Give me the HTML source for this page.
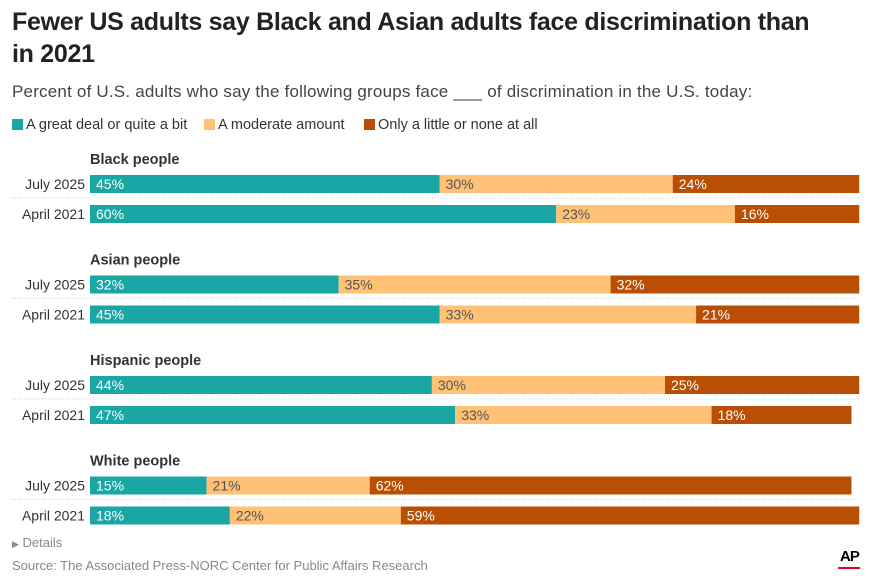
<!DOCTYPE html>
<html><head><meta charset="utf-8"><style>
body{margin:0;width:871px;height:581px;background:#fff;font-family:"Liberation Sans",sans-serif;overflow:hidden;position:relative}
.t{position:absolute;left:12px;top:6px;font-size:25px;font-weight:bold;color:#222;line-height:32px;width:820px;letter-spacing:-0.3px}
.s{position:absolute;left:12px;top:82px;font-size:17px;color:#444;letter-spacing:0.2px}
.lg{position:absolute;top:117px;font-size:14.5px;color:#333}
.lg i{display:inline-block;width:11px;height:11px;margin-right:3px;vertical-align:-1px}
</style></head><body>
<div class="t">Fewer US adults say Black and Asian adults face discrimination than in 2021</div>
<div class="s">Percent of U.S. adults who say the following groups face ___ of discrimination in the U.S. today:</div>
<div class="lg" style="left:12px"><i style="background:#1aa6a5"></i>A great deal or quite a bit</div>
<div class="lg" style="left:204px"><i style="background:#fec176"></i>A moderate amount</div>
<div class="lg" style="left:364px"><i style="background:#b84f04"></i>Only a little or none at all</div>
<svg id="c" width="871" height="581" style="position:absolute;left:0;top:0"></svg>
<div style="position:absolute;left:12px;top:535px;font-size:13px;color:#888"><span style="font-size:9px">▶</span> Details</div>
<div style="position:absolute;left:12px;top:558px;font-size:13px;color:#888">Source: The Associated Press-NORC Center for Public Affairs Research</div>
<div style="position:absolute;left:840px;top:548px;font-size:15px;font-weight:bold;color:#000;letter-spacing:-1px">AP</div>
<div style="position:absolute;left:838px;top:567px;width:22px;height:2px;background:#e4002b"></div>
<script>
const groups=["Black people","Asian people","Hispanic people","White people"];
const rows=["July 2025","April 2021"];
const great=[[45,60],[32,45],[44,47],[15,18]];
const moderate=[[30,23],[35,33],[30,33],[21,22]];
const little=[[24,16],[32,21],[25,18],[62,59]];
const colors=["#1aa6a5","#fec176","#b84f04"];
const txtCol=["#fff","#555","#fff"];
const svg=document.getElementById('c');const NS="http://www.w3.org/2000/svg";
const x0=90,k=7.77;
function X(v){return x0+v*k;}
function mk(t,a){const e=document.createElementNS(NS,t);for(const n in a)e.setAttribute(n,a[n]);svg.appendChild(e);return e;}
groups.forEach((g,gi)=>{
  const gy=150+gi*100.5;
  const gl=mk('text',{x:90,y:gy+14,'font-size':14.5,fill:'#333','font-weight':'bold'});gl.textContent=g;
  
  
  const sep=mk('line',{x1:12,x2:859,y1:gy+48,y2:gy+48,stroke:'#ccc','stroke-dasharray':'1,2'});
  
  
  rows.forEach((r,ri)=>{
    const y=gy+25+ri*30;
    const rl=mk('text',{x:85,y:y+14,'font-size':14,fill:'#333','text-anchor':'end'});rl.textContent=r;
    
    
    const vals=[great[gi][ri],moderate[gi][ri],little[gi][ri]];
    let acc=0;
    vals.forEach((v,si)=>{
      const b=mk('rect',{x:X(acc),y:y,width:v*k,height:18,fill:colors[si]});
      
      
      const t=mk('text',{x:X(acc)+6,y:y+14,'font-size':14,fill:txtCol[si]});t.textContent=v+'%';
      
      
      acc+=v;
    });
  });
});
</script>
</body></html>
